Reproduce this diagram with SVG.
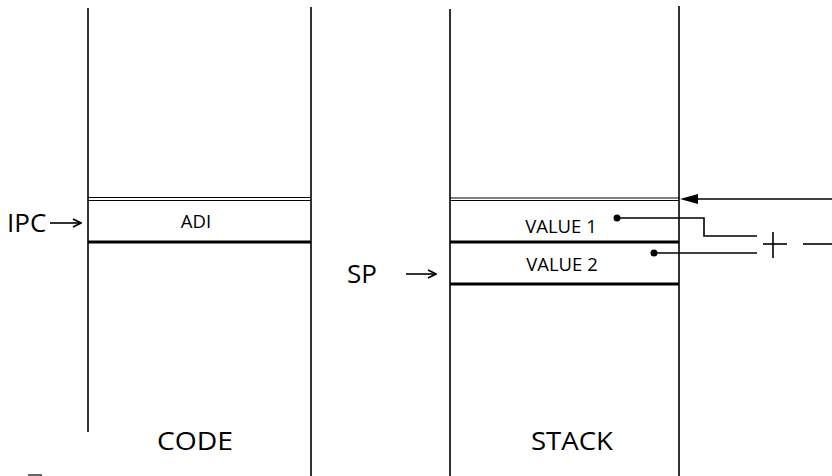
<svg xmlns="http://www.w3.org/2000/svg" width="832" height="476" viewBox="0 0 832 476">
<defs>
<style>
.ln{stroke:#000;stroke-width:1.6;fill:none}
.thin{stroke:#000;stroke-width:1.2;fill:none}
.thick{stroke:#000;stroke-width:2.8;fill:none}
.lbl{font-family:"Open Sans","DejaVu Sans",sans-serif;fill:#000}
.big{font-size:26px}
.sm{font-size:18.5px}
</style>
<marker id="open" viewBox="0 0 10 10" refX="9" refY="5" markerWidth="10" markerHeight="10" markerUnits="userSpaceOnUse" orient="auto">
<path d="M1,1 L9,5 L1,9" fill="none" stroke="#000" stroke-width="1.8"/>
</marker>
</defs>
<rect width="832" height="476" fill="#fff"/>

<g id="code">
<line class="ln" x1="88" y1="8" x2="88" y2="432"/>
<line class="ln" x1="311" y1="7" x2="311" y2="476"/>
<line class="thin" x1="88" y1="197.5" x2="311" y2="197.5"/>
<line class="thin" x1="88" y1="200.5" x2="311" y2="200.5"/>
<line class="thick" x1="88" y1="242" x2="311" y2="242"/>
<text class="lbl big" x="195" y="450" text-anchor="middle" textLength="76" lengthAdjust="spacingAndGlyphs">CODE</text>
</g>

<g id="adi">
<text class="lbl sm" x="196" y="227.5" text-anchor="middle">ADI</text>
</g>

<g id="ipc">
<text class="lbl big" x="7" y="232">IPC</text>
</g>

<g id="stack">
<line class="ln" x1="450" y1="9" x2="450" y2="476"/>
<line class="ln" x1="679" y1="6" x2="679" y2="476"/>
<line class="thin" x1="450" y1="198" x2="679" y2="198"/>
<line class="thin" x1="450" y1="200.5" x2="679" y2="200.5"/>
<text class="lbl big" x="572" y="450" text-anchor="middle" textLength="82" lengthAdjust="spacingAndGlyphs">STACK</text>
</g>

<g id="value1">
<line class="thick" x1="450" y1="242" x2="679" y2="242"/>
<text class="lbl sm" x="561" y="232.5" text-anchor="middle">VALUE 1</text>
<circle cx="617" cy="218" r="3.5" fill="#000"/>
</g>

<g id="value2">
<line class="thick" x1="450" y1="284" x2="679" y2="284"/>
<text class="lbl sm" x="562" y="270.5" text-anchor="middle">VALUE 2</text>
<circle cx="654" cy="253" r="3.5" fill="#000"/>
</g>

<g id="sp">
<text class="lbl big" x="347" y="283">SP</text>
</g>

<g id="plus">
<line class="ln" x1="773" y1="232" x2="773" y2="258"/>
<line class="ln" x1="763" y1="244" x2="787" y2="244"/>
</g>

<g id="connectors">
<line class="ln" x1="50" y1="223" x2="81" y2="223" marker-end="url(#open)"/>
<line class="ln" x1="406" y1="274" x2="436" y2="274" marker-end="url(#open)"/>
<line class="ln" x1="832" y1="199" x2="697" y2="199"/>
<path d="M680,199 L698,194 L698,204 Z" fill="#000"/>
<polyline class="ln" points="617,218 704,218 704,236 757,236"/>
<line class="ln" x1="654" y1="253" x2="757" y2="253"/>
<line class="ln" x1="803" y1="244" x2="832" y2="244"/>
<line class="thin" x1="28" y1="475" x2="42" y2="475"/>
</g>
</svg>
